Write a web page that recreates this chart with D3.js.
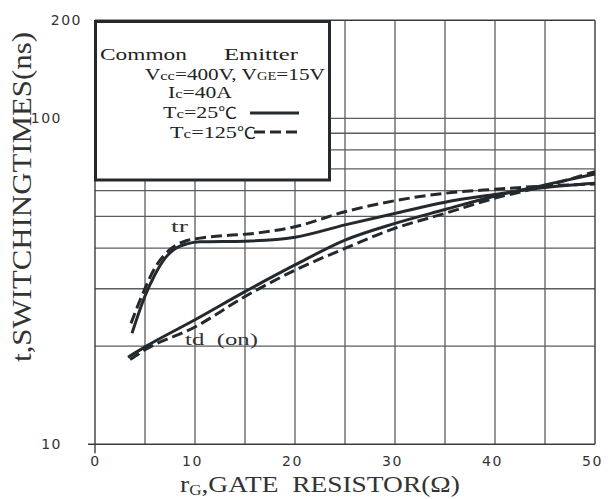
<!DOCTYPE html>
<html>
<head>
<meta charset="utf-8">
<script src="https://cdn.jsdelivr.net/npm/d3@7"></script>
<style>
  html, body { margin: 0; padding: 0; background: #fff; }
  svg { display: block; }
</style>
</head>
<body>
<svg id="chart" width="611" height="499"></svg>
<script>
// Switching times vs gate resistor (IGBT, common emitter)
const xTicks = [0, 10, 20, 30, 40, 50];
const xGrid = [5, 10, 15, 20, 25, 30, 35, 40, 45];
const yGrid = [20, 30, 40, 50, 60, 70, 80, 90, 100];
const yTickLabels = [10, 100, 200];

// rise time tr, Tc = 25°C (solid)
const tr25 = [
  [3.7, 21.9], [5.0, 28.5], [6.0, 33.2], [7.0, 37.2], [8.0, 39.8], [9.2, 41.2],
  [10.5, 41.8], [15, 42.0], [20, 43.2], [25, 47.1], [30, 51.1],
  [35, 55.3], [40, 58.4], [45, 61.3], [50, 63.2]
];
// rise time tr, Tc = 125°C (dashed)
const tr125 = [
  [3.6, 23.5], [4.7, 28.6], [6.0, 34.8], [7.5, 39.6], [9.2, 42.2], [10.5, 42.9],
  [16.5, 44.6], [20, 46.5], [25, 51.7], [30, 55.9], [35, 58.9],
  [40, 60.6], [45, 62.0], [50, 62.9]
];
// turn-on delay td(on), Tc = 25°C (solid)
const td25 = [
  [3.3, 18.5], [5, 19.9], [10, 24.1], [15, 29.4], [20, 35.5],
  [25, 42.3], [30, 47.6], [35, 52.5], [40, 57.8], [45, 62.5], [50, 67.5]
];
// turn-on delay td(on), Tc = 125°C (dashed)
const td125 = [
  [3.5, 18.2], [5, 19.5], [10, 22.9], [15, 28.4], [20, 34.2],
  [25, 39.9], [30, 46.0], [35, 51.1], [40, 56.9], [45, 62.0], [50, 68.6]
];

const svg = d3.select("#chart");
const x = d3.scaleLinear().domain([0, 50]).range([95, 595]);
const y = d3.scaleLog().domain([10, 200]).range([444.3, 20.2]);

const ink = "#24292e";
const gridColor = "#5a5d60";
const serif = "'Liberation Serif', 'DejaVu Serif', serif";
const sans = "'DejaVu Sans', sans-serif";
const cjk = "'Noto Sans CJK SC', 'DejaVu Sans', sans-serif";

// stretch a text horizontally so it spans the given width, anchored at its x
function fitWidth(sel, xp, yp, width) {
  const w = sel.node().getComputedTextLength();
  const k = width / w;
  sel.attr("x", 0).attr("y", 0)
    .attr("transform", `translate(${xp},${yp}) scale(${k},1)`);
  return sel;
}

// grid
const grid = svg.append("g").attr("stroke", gridColor).attr("stroke-width", 1.3);
grid.selectAll("line.v").data(xGrid).join("line")
  .attr("x1", d => x(d)).attr("x2", d => x(d))
  .attr("y1", y(200)).attr("y2", y(10));
grid.selectAll("line.h").data(yGrid).join("line")
  .attr("x1", x(0)).attr("x2", x(50))
  .attr("y1", d => y(d)).attr("y2", d => y(d));

// frame: top and right border, axes with a small cross at the origin
const frame = svg.append("g").attr("stroke", "#3a3d40").attr("stroke-width", 1.4).attr("fill", "none");
frame.append("line").attr("x1", x(0)).attr("x2", x(50)).attr("y1", y(200)).attr("y2", y(200));
frame.append("line").attr("x1", x(50)).attr("x2", x(50)).attr("y1", y(200)).attr("y2", y(10));
frame.append("line").attr("x1", x(0) - 7).attr("x2", x(50)).attr("y1", y(10)).attr("y2", y(10));
frame.append("line").attr("x1", x(0)).attr("x2", x(0)).attr("y1", y(200)).attr("y2", y(10) + 9);

// x tick labels
const xAxis = d3.axisBottom(x).tickValues(xTicks).tickSize(0).tickPadding(12).tickFormat(d3.format("d"));
const gx = svg.append("g").attr("transform", `translate(0,${y(10)})`).call(xAxis);
gx.select(".domain").remove();
gx.selectAll("text").attr("font-family", sans).attr("font-size", 14)
  .attr("letter-spacing", 1.5).attr("fill", "#333")
  .attr("dx", d => d === 0 ? 0 : -3);

// y tick labels
const yAxis = d3.axisLeft(y).tickValues(yTickLabels).tickSize(0).tickPadding(33).tickFormat(d3.format("d"));
const gy = svg.append("g").attr("transform", `translate(${x(0)},0)`).call(yAxis);
gy.select(".domain").remove();
gy.selectAll("text").attr("font-family", sans).attr("font-size", 14)
  .attr("letter-spacing", 1.5).attr("fill", "#333")
  .attr("dx", d => d === 200 ? 20 : 0);

// curves
const line = d3.line().x(d => x(d[0])).y(d => y(d[1])).curve(d3.curveMonotoneX);
const curves = [
  { data: tr25, dash: null },
  { data: tr125, dash: "11,5" },
  { data: td25, dash: null },
  { data: td125, dash: "11,5" }
];
svg.append("g").selectAll("path").data(curves).join("path")
  .attr("d", d => line(d.data))
  .attr("fill", "none")
  .attr("stroke", ink)
  .attr("stroke-width", 3)
  .attr("stroke-dasharray", d => d.dash);

// curve labels
const lab = t => svg.append("text").attr("font-family", serif).attr("font-size", 17.5)
  .attr("fill", "#333").attr("xml:space", "preserve").text(t);
fitWidth(lab("tr"), 171, 232, 17);
fitWidth(lab("td  (on)"), 185, 345, 73);

// legend box
const lg = svg.append("g");
lg.append("rect").attr("x", 95.5).attr("y", 21.5).attr("width", 234).attr("height", 158.5)
  .attr("fill", "#fff").attr("stroke", ink).attr("stroke-width", 3);

const lt = () => lg.append("text")
  .attr("font-family", serif).attr("font-size", 17.5).attr("fill", "#222");

fitWidth(lt().text("Common"), 100, 60, 87);
fitWidth(lt().text("Emitter"), 224, 60, 74);

const l2 = lt();
l2.append("tspan").text("V");
l2.append("tspan").attr("font-size", 13.5).text("cc");
l2.append("tspan").text("=400V, V");
l2.append("tspan").attr("font-size", 12).text("GE");
l2.append("tspan").text("=15V");
fitWidth(l2, 145, 80, 180);

const l3 = lt();
l3.append("tspan").text("I");
l3.append("tspan").attr("font-size", 13.5).text("c");
l3.append("tspan").text("=40A");
fitWidth(l3, 168, 98, 64);

const l4 = lt();
l4.append("tspan").text("T");
l4.append("tspan").attr("font-size", 13.5).text("c");
l4.append("tspan").text("=25");
l4.append("tspan").attr("font-family", cjk).attr("font-size", 15).text("℃");
fitWidth(l4, 163, 118, 74);

const l5 = lt();
l5.append("tspan").text("T");
l5.append("tspan").attr("font-size", 13.5).text("c");
l5.append("tspan").text("=125");
l5.append("tspan").attr("font-family", cjk).attr("font-size", 15).text("℃");
fitWidth(l5, 170, 138, 86);

lg.append("line").attr("x1", 250).attr("x2", 299).attr("y1", 113).attr("y2", 113)
  .attr("stroke", ink).attr("stroke-width", 3);
lg.append("line").attr("x1", 254).attr("x2", 300).attr("y1", 132).attr("y2", 132)
  .attr("stroke", ink).attr("stroke-width", 3).attr("stroke-dasharray", "11,5");

// axis titles
const xt = svg.append("text")
  .attr("font-family", serif).attr("font-size", 22.5).attr("fill", "#333")
  .attr("xml:space", "preserve");
xt.append("tspan").text("r");
xt.append("tspan").attr("font-size", 14).attr("dy", 3).text("G");
xt.append("tspan").attr("dy", -3).text(",GATE  RESISTOR(Ω)");
fitWidth(xt, 180, 492, 280);

const yt = svg.append("text")
  .attr("font-family", serif).attr("font-size", 27).attr("fill", "#333")
  .text("t,SWITCHINGTIMES(ns)");
{
  const w = yt.node().getComputedTextLength();
  yt.attr("text-anchor", "middle")
    .attr("transform", `translate(31,197) rotate(-90) scale(${330 / w},1)`);
}
</script>
</body>
</html>
